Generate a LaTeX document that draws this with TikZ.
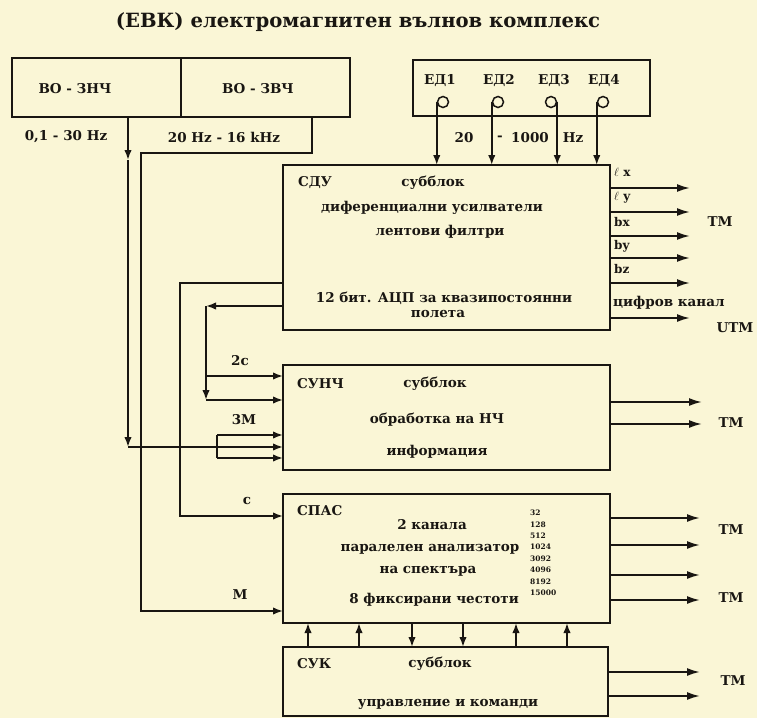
\documentclass[tikz,border=0pt]{standalone}
\usepackage{fontspec}
\setmainfont{DejaVu Serif}
\usetikzlibrary{arrows.meta,calc}
\definecolor{paper}{RGB}{250,246,214}
\definecolor{ink}{RGB}{25,22,18}
\begin{document}
\begin{tikzpicture}[x=1pt,y=-1pt,
  box/.style={draw=ink,line width=1.9pt,anchor=north west,inner sep=0pt,outer sep=0pt},
  wire/.style={draw=ink,line width=1.9pt},
  arr/.style={wire,-{Latex[length=10pt,width=7.5pt]}},
  bigarr/.style={wire,-{Latex[length=13pt,width=8pt]}},
  t/.style={text=ink,font=\fontsize{13.5}{15}\selectfont\bfseries,inner sep=0pt},
  tl/.style={t,anchor=west},
  sm/.style={text=ink,font=\fontsize{12}{13}\selectfont\bfseries,inner sep=0pt,anchor=west},
  num/.style={text=ink,font=\fontsize{7.5}{8}\selectfont\bfseries,inner sep=0pt,anchor=west},
  ring/.style={circle,draw=ink,line width=1.5pt,minimum size=11pt,inner sep=0pt}]
\fill[paper] (0,0) rectangle (757,718);
\useasboundingbox (0,0) rectangle (757,718);

% title
\node[text=ink,font=\fontsize{19.6}{22}\selectfont\bfseries,inner sep=0pt] (title) at (358,22) {(ЕВК) електромагнитен вълнов комплекс};

% boxes
\node[box,minimum width=169pt,minimum height=59pt] (bo1) at (12,58) {};
\node[box,minimum width=169pt,minimum height=59pt] (bo2) at (181,58) {};
\node[box,minimum width=237pt,minimum height=56pt] (ed) at (413,60) {};
\node[box,minimum width=327pt,minimum height=165pt] (sdu) at (283,165) {};
\node[box,minimum width=327pt,minimum height=105pt] (sunch) at (283,365) {};
\node[box,minimum width=327pt,minimum height=129pt] (spas) at (283,494) {};
\node[box,minimum width=325pt,minimum height=69pt] (suk) at (283,647) {};

% BO texts
\node[t] (tbo1) at (75,89) {ВО - ЗНЧ};
\node[t] (tbo2) at (258,89) {ВО - ЗВЧ};
\node[t] (f1) at (66,137) {0,1 - 30 Hz};
\node[t] (f2) at (224,137) {20 Hz - 16 kHz};

% ED box
\node[t] (e1) at (440,81) {ЕД1};
\node[t] (e2) at (499,81) {ЕД2};
\node[t] (e3) at (554,81) {ЕД3};
\node[t] (e4) at (604,81) {ЕД4};
\node[ring] (c1) at (443,102) {};
\node[ring] (c2) at (498,102) {};
\node[ring] (c3) at (551,102) {};
\node[ring] (c4) at (603,102) {};
\draw[arr] (c1.west) -- (c1.west |- sdu.north);
\draw[arr] (c2.west) -- (c2.west |- sdu.north);
\draw[arr] (c3.east) -- (c3.east |- sdu.north);
\draw[arr] (c4.west) -- (c4.west |- sdu.north);
\node[t] (h1) at (464,138) {20};
\node[t] (h2) at (500,138) {-};
\node[t] (h3) at (530,138) {1000};
\node[t] (h4) at (573,138) {Hz};

% SDU texts
\node[tl] (sdut) at (298,183) {СДУ};
\node[t] (sdu1) at (433,183) {субблок};
\node[t] (sdu2) at (432,208) {диференциални усилватели};
\node[t] (sdu3) at (440,232) {лентови филтри};
\node[t] (sdu4) at (444,298) {12 бит. АЦП за квазипостоянни};
\node[t] (sdu5) at (438,314) {полета};

% SDU outputs
\foreach \y in {188,212,236,258,283,318}
  \draw[bigarr] (sdu.east |- 0,\y) -- (690,\y);
\node[sm] (lx) at (614,172) {$\ell$ x};
\node[sm] (ly) at (614,198) {$\ell$ y};
\node[sm] (bx) at (614,222) {bx};
\node[sm] (by) at (614,246) {by};
\node[sm] (bz) at (614,269) {bz};
\node[tl] (cif) at (613,303) {цифров канал};
\node[t] (tm1) at (720,222) {ТМ};
\node[t] (utm) at (735,328) {UTM};

% SUNCH texts
\node[tl] (sunt) at (297,384) {СУНЧ};
\node[t] (sun1) at (435,384) {субблок};
\node[t] (sun2) at (437,420) {обработка на НЧ};
\node[t] (sun3) at (437,452) {информация};
\foreach \y in {402,424}
  \draw[bigarr] (sunch.east |- 0,\y) -- (702,\y);
\node[t] (tm2) at (731,423) {ТМ};

% SPAS texts
\node[tl] (spast) at (297,511) {СПАС};
\node[t] (spa1) at (432,525) {2 канала};
\node[t] (spa2) at (430,549) {паралелен анализатор};
\node[t] (spa3) at (428,571) {на спектъра};
\node[t] (spa4) at (434,600) {8 фиксирани честоти};
\foreach \v [count=\i from 0] in {32,128,512,1024,3092,4096,8192,15000}
  \node[num] (n\i) at (530,{513+11.4*\i}) {\v};
\foreach \y in {518,545,575,600}
  \draw[bigarr] (spas.east |- 0,\y) -- (700,\y);
\node[t] (tm3) at (731,530) {ТМ};
\node[t] (tm4) at (731,598) {ТМ};

% SUK texts
\node[tl] (sukt) at (297,664) {СУК};
\node[t] (suk1) at (440,664) {субблок};
\node[t] (suk2) at (448,704) {управление и команди};
\foreach \y in {672,696}
  \draw[bigarr] (suk.east |- 0,\y) -- (700,\y);
\node[t] (tm5) at (733,681) {ТМ};

% SPAS <-> SUK
\foreach \x in {308,359,516,567}
  \draw[arr] (suk.north -| \x,0) -- (spas.south -| \x,0);
\foreach \x in {412,463}
  \draw[arr] (spas.south -| \x,0) -- (suk.north -| \x,0);

% left wiring
\coordinate (k1) at (128,160);
\coordinate (k2) at (128,447);
\coordinate (k3) at (217,447);
\draw[arr] (bo1.south -| 128,0) -- (k1);
\draw[arr] (k1) -- (k2);
\draw[wire] (k2) -- (k3);
\draw[wire] (217,435) -- (217,458);
\foreach \y in {435,447,458}
  \draw[arr] (217,\y) -- (sunch.west |- 0,\y);
\node[t] (l3m) at (244,420) {3М};

\draw[arr] (bo2.south -| 312,0) |- (141,153) |- (spas.west |- 0,611);
\node[t] (lm) at (240,595) {М};

\draw[arr] (sdu.west |- 0,283) -| (180,516) -- (spas.west |- 0,516);
\node[t] (lc) at (247,501) {с};

\coordinate (k4) at (206,306);
\coordinate (k5) at (206,400);
\draw[arr] (sdu.west |- 0,306) -- (k4);
\draw[arr] (k4) -- (k5);
\draw[arr] (k5) -- (sunch.west |- k5);
\draw[arr] (206,376) -- (sunch.west |- 0,376);
\node[t] (l2c) at (240,361) {2с};
\end{tikzpicture}
\end{document}
